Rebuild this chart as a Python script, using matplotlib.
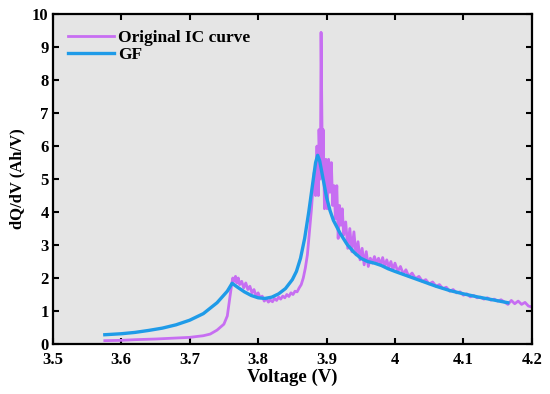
import matplotlib
matplotlib.use("Agg")
import matplotlib.pyplot as plt

# Original IC curve (voltage, dQ/dV)
orig_v = [3.576, 3.60, 3.62, 3.65, 3.68, 3.70, 3.72, 3.73, 3.74, 3.75, 3.755, 3.758,
          3.761, 3.763, 3.765, 3.767, 3.769, 3.771, 3.773, 3.776, 3.779, 3.782, 3.785,
          3.788, 3.791, 3.794, 3.797, 3.800, 3.803, 3.806, 3.809, 3.812, 3.815, 3.818,
          3.821, 3.824, 3.827, 3.830, 3.833, 3.836, 3.839, 3.842, 3.845, 3.848, 3.851,
          3.854, 3.857, 3.860, 3.863, 3.866, 3.869, 3.872, 3.875, 3.878, 3.880, 3.882,
          3.884, 3.886, 3.888, 3.889, 3.891, 3.892, 3.894, 3.895, 3.897, 3.899, 3.901,
          3.903, 3.905, 3.907, 3.909, 3.911, 3.913, 3.915, 3.917, 3.919, 3.921, 3.923,
          3.925, 3.928, 3.931, 3.934, 3.937, 3.940, 3.943, 3.946, 3.949, 3.952, 3.955,
          3.958, 3.961, 3.964, 3.967, 3.970, 3.973, 3.976, 3.979, 3.982, 3.985, 3.988,
          3.991, 3.994, 3.997, 4.000, 4.004, 4.008, 4.012, 4.016, 4.020, 4.025, 4.030,
          4.035, 4.040, 4.045, 4.050, 4.055, 4.060, 4.065, 4.070, 4.075, 4.080, 4.085,
          4.090, 4.095, 4.100, 4.105, 4.110, 4.115, 4.120, 4.125, 4.130, 4.135, 4.140,
          4.145, 4.150, 4.155, 4.160, 4.165, 4.170, 4.175, 4.180, 4.185, 4.190, 4.195,
          4.200]
orig_q = [0.10, 0.11, 0.13, 0.15, 0.18, 0.20, 0.25, 0.30, 0.42, 0.60, 0.85, 1.30,
          1.75, 2.00, 1.90, 2.05, 1.85, 2.00, 1.80, 1.90, 1.70, 1.85, 1.65,
          1.75, 1.55, 1.65, 1.45, 1.55, 1.40, 1.45, 1.30, 1.38, 1.27, 1.33,
          1.28, 1.38, 1.32, 1.42, 1.36, 1.45, 1.40, 1.50, 1.44, 1.55, 1.50,
          1.60, 1.58, 1.70, 1.80, 2.00, 2.30, 2.70, 3.40, 4.10, 4.70, 5.20,
          4.50, 6.00, 4.50, 6.50, 5.00, 9.45, 5.20, 6.50, 4.10, 5.60, 4.10,
          5.60, 4.60, 5.50, 4.20, 4.80, 3.80, 4.80, 3.20, 4.20, 3.60, 4.10,
          3.30, 3.70, 2.90, 3.50, 2.80, 3.40, 2.70, 3.10, 2.55, 2.90, 2.40,
          2.80, 2.35, 2.60, 2.45, 2.65, 2.45, 2.60, 2.40, 2.62, 2.35, 2.55,
          2.32, 2.50, 2.25, 2.45, 2.20, 2.35, 2.12, 2.25, 2.05, 2.15, 1.98,
          2.05, 1.90, 1.95, 1.82, 1.88, 1.75, 1.80, 1.68, 1.72, 1.60, 1.65,
          1.55, 1.58, 1.48, 1.52, 1.43, 1.47, 1.40, 1.42, 1.36, 1.40, 1.33,
          1.36, 1.30, 1.34, 1.27, 1.20, 1.32, 1.22, 1.30, 1.20, 1.26, 1.15,
          1.12]

# GF filtered curve
gf_v = [3.576, 3.60, 3.62, 3.64, 3.66, 3.68, 3.70, 3.72, 3.74, 3.755, 3.762, 3.770,
        3.780, 3.790, 3.800, 3.810, 3.820, 3.830, 3.840, 3.850, 3.856, 3.862, 3.868,
        3.874, 3.880, 3.884, 3.887, 3.890, 3.895, 3.900, 3.905, 3.910, 3.920, 3.930,
        3.940, 3.950, 3.960, 3.970, 3.980, 3.990, 4.000, 4.020, 4.040, 4.060, 4.080,
        4.100, 4.120, 4.140, 4.165]
gf_q = [0.28, 0.31, 0.35, 0.41, 0.48, 0.58, 0.72, 0.92, 1.25, 1.60, 1.84, 1.72,
        1.58, 1.47, 1.40, 1.38, 1.42, 1.52, 1.68, 1.95, 2.20, 2.60, 3.20,
        4.00, 4.90, 5.50, 5.72, 5.55, 5.00, 4.45, 4.05, 3.75, 3.35, 3.02,
        2.78, 2.60, 2.50, 2.45, 2.38, 2.28, 2.20, 2.05, 1.90, 1.75, 1.62,
        1.52, 1.43, 1.35, 1.25]

plt.rcParams['font.family'] = ['Liberation Serif', 'DejaVu Serif']
plt.rcParams['font.weight'] = 'bold'

fig = plt.figure(figsize=(5.5, 3.94), dpi=100)
ax = fig.add_axes([0.096, 0.127, 0.871, 0.837])
ax.set_facecolor('#e5e5e5')

ax.plot(orig_v, orig_q, color='#c76ef2', lw=2.0, label='Original IC curve')
ax.plot(gf_v, gf_q, color='#1f9be8', lw=2.4, label='GF')

ax.set_xlim(3.5, 4.2)
ax.set_ylim(0, 10)
ax.set_xticks([3.5, 3.6, 3.7, 3.8, 3.9, 4.0, 4.1, 4.2])
ax.set_xticklabels(['3.5', '3.6', '3.7', '3.8', '3.9', '4', '4.1', '4.2'])
ax.set_yticks(range(0, 11))

ax.tick_params(direction='in', top=True, right=True, length=4, width=1.5,
               labelsize=12)
ax.tick_params(axis='x', pad=6)
ax.tick_params(axis='y', pad=3)
for lab in ax.get_xticklabels() + ax.get_yticklabels():
    lab.set_fontweight('bold')
for s in ax.spines.values():
    s.set_linewidth(1.6)

ax.set_xlabel('Voltage (V)', fontsize=13.5, fontweight='bold', labelpad=0)
ax.set_ylabel('dQ/dV (Ah/V)', fontsize=12, fontweight='bold', labelpad=5)

leg = ax.legend(loc='upper left', frameon=False, fontsize=12.5, handlelength=2.6,
                handletextpad=0.25, labelspacing=0.05, borderaxespad=0.5)
for t in leg.get_texts():
    t.set_fontweight('bold')

fig.savefig('out.png', dpi=100)
